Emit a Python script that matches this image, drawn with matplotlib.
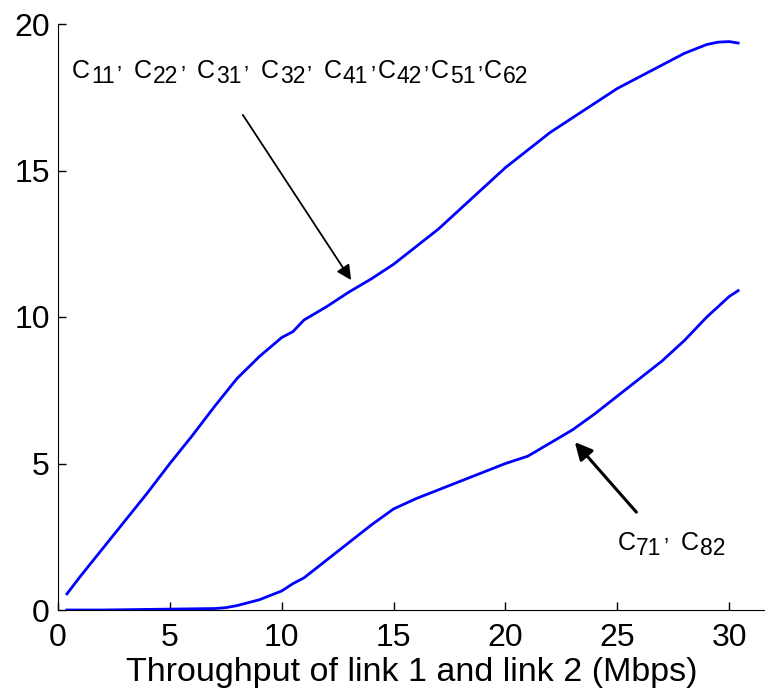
import numpy as np
import matplotlib.pyplot as plt
from matplotlib import font_manager
from matplotlib.transforms import offset_copy

plt.rcParams['font.family'] = ['Liberation Sans', 'DejaVu Sans']

# curve of C11, C22, C31, C32, C41, C42, C51, C62
x_top = [0.4, 1, 2, 3, 4, 5, 6, 7, 8, 9, 10, 10.5, 11, 12, 13, 14, 15, 16,
         17, 18, 19, 20, 21, 22, 23, 24, 25, 26, 27, 28, 29, 29.5, 30, 30.4]
y_top = [0.55, 1.15, 2.1, 3.05, 4.0, 5.0, 5.95, 6.95, 7.9, 8.65, 9.3, 9.5,
         9.9, 10.35, 10.85, 11.3, 11.8, 12.4, 13.0, 13.7, 14.4, 15.1, 15.7,
         16.3, 16.8, 17.3, 17.8, 18.2, 18.6, 19.0, 19.3, 19.38, 19.4, 19.35]

# curve of C71, C82
x_bot = [0.4, 2, 4, 6, 7, 7.5, 8, 8.5, 9, 9.5, 10, 10.5, 11, 11.5, 12, 13,
         14, 15, 16, 17, 18, 19, 20, 21, 22, 23, 24, 25, 26, 27, 28, 29, 30, 30.4]
y_bot = [0.0, 0.0, 0.02, 0.04, 0.05, 0.08, 0.15, 0.25, 0.35, 0.5, 0.65, 0.9,
         1.1, 1.4, 1.7, 2.3, 2.9, 3.45, 3.8, 4.1, 4.4, 4.7, 5.0, 5.25, 5.7,
         6.15, 6.7, 7.3, 7.9, 8.5, 9.2, 10.0, 10.7, 10.9]

top_names = ['11', '22', '31', '32', '41', '42', '51', '62']
top_gaps = [12, 12, 12, 12, 2, 2, 2]   # space after each comma, pixels
bot_names = ['71', '82']
bot_gaps = [12]

xticks = [0, 5, 10, 15, 20, 25, 30]
yticks = [0, 5, 10, 15, 20]

# narrow face for the subscripts if there is one
try:
    font_manager.findfont('Liberation Sans Narrow', fallback_to_default=False)
    sub_family = ['Liberation Sans Narrow', 'Liberation Sans']
except ValueError:
    sub_family = ['Liberation Sans']

fig = plt.figure(figsize=(7.65, 6.92), dpi=100)
ax = fig.add_axes([58 / 765, 1 - 610 / 692, 1 - 58 / 765, (610 - 24) / 692])
renderer = fig.canvas.get_renderer()


def put(x, y, dx, dy, s, **kw):
    tr = offset_copy(ax.transData, fig=fig, x=dx, y=dy, units='dots')
    t = ax.text(x, y, s, transform=tr, va='baseline', ha='left', **kw)
    return t.get_window_extent(renderer).width


def c_label(x, y, names, gaps):
    # "C" followed by a lowered subscript and a comma
    dx = 0
    for i, n in enumerate(names):
        dx += put(x, y, dx, 0, 'C', fontsize=18)
        dx += 1
        dx += put(x, y, dx, -5, n, fontsize=16.5, family=sub_family)
        if i < len(names) - 1:
            dx += 2
            dx += put(x, y, dx, -5, '\u2019', fontsize=16.5, family=sub_family)
            dx += gaps[i]


ax.plot(x_top, y_top, color='#0000ff', lw=2.0)
ax.plot(x_bot, y_bot, color='#0000ff', lw=2.0)

ax.set_xlim(0, 31.6)
ax.set_ylim(0, 20)
ax.set_xticks(xticks)
ax.set_yticks(yticks)
ax.spines['top'].set_visible(False)
ax.spines['right'].set_visible(False)
ax.tick_params(direction='in', length=6, width=1, labelsize=23)
ax.tick_params(axis='x', pad=9)
ax.tick_params(axis='y', pad=6)
ax.set_xlabel('Throughput of link 1 and link 2 (Mbps)', fontsize=24.5, labelpad=3)

c_label(0.63, 18.15, top_names, top_gaps)
ax.annotate('', xy=(13.1, 11.26), xytext=(8.26, 16.9),
            arrowprops=dict(arrowstyle='-|>', color='black', lw=1.3,
                            mutation_scale=22, shrinkA=0, shrinkB=0))

c_label(25.0, 2.05, bot_names, bot_gaps)
ax.annotate('', xy=(23.1, 5.73), xytext=(25.85, 3.34),
            arrowprops=dict(arrowstyle='-|>', color='black', lw=2.2,
                            mutation_scale=26, shrinkA=0, shrinkB=0))

fig.savefig('out.png', dpi=100)
